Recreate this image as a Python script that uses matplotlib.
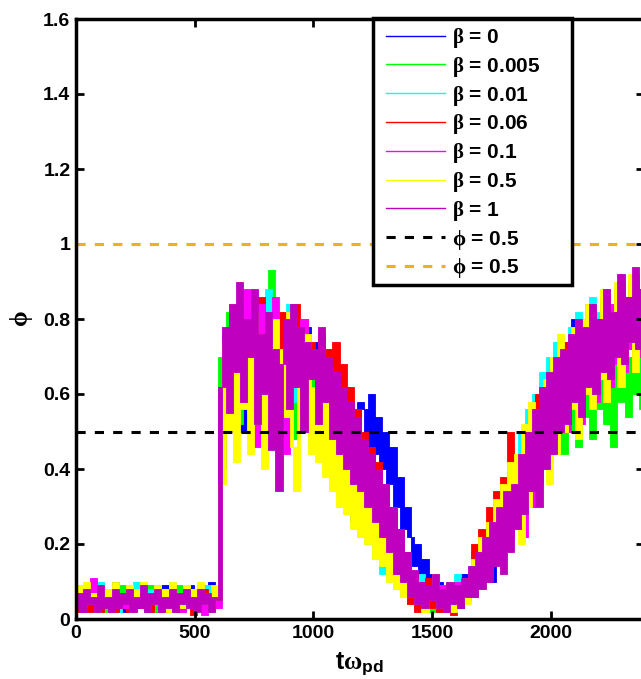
import numpy as np
import matplotlib
matplotlib.use("Agg")
import matplotlib.pyplot as plt
from matplotlib.lines import Line2D
from matplotlib.patches import Rectangle

plt.rcParams['font.family'] = ['Liberation Sans', 'DejaVu Sans']
plt.rcParams['font.weight'] = 'bold'
plt.rcParams['mathtext.fontset'] = 'custom'
plt.rcParams['mathtext.rm'] = 'Liberation Serif'
plt.rcParams['mathtext.it'] = 'Liberation Serif'
plt.rcParams['mathtext.bf'] = 'Liberation Sans:bold'

dt = 15  # sample spacing of the hand-read traces

# phi(t) traces, one value every 15 time units
phi_b0 = [0.04,0.08,0.03,0.06,0.09,0.02,0.07,0.04,0.08,0.03, 0.06,0.10,0.03,0.07,0.02,0.08,0.05,0.09,0.03,0.06,
          0.04,0.08,0.02,0.07,0.05,0.09,0.03,0.06,0.08,0.02, 0.07,0.04,0.09,0.03,0.08,0.05,0.06,0.03,0.10,0.04, 0.06,
          0.40,0.70,0.58,0.80,0.62,0.74,0.50,0.78,0.66,0.72,0.48,0.80,0.58,0.70,0.52,0.76,0.60,0.46,0.72,0.64,0.80,0.55,0.70,0.62,0.78,0.58,
          0.66,0.74,0.56,0.70,0.60,0.72,0.54,0.66,0.58,0.62,0.48,0.26,0.52,0.58,
          0.56,0.46,0.60,0.44,0.54,0.40,0.50,0.36,0.46,0.30,0.38,0.24,0.30,
          0.22,0.14,0.20,0.10,0.16,0.08,0.12,0.05,0.10,0.04,0.08,0.06,0.10,0.04,0.09,0.12,0.07,
          0.10,0.18,0.08,0.20,0.12,0.24,0.10,0.28,0.16,0.32,0.20,0.36,0.24,
          0.40,0.28,0.46,0.34,0.52,0.38,0.56,0.42,0.62,0.46,0.66,0.50,0.72,
          0.56,0.74,0.60,0.80,0.58,0.76,0.64,0.82,0.62,0.78,0.68,0.86,0.66,0.80,0.72,0.88,0.70,0.84,0.76,0.90,0.74,0.86,0.78,0.82,0.74,0.88]

phi_b0005 = [0.05,0.02,0.08,0.04,0.07,0.03,0.09,0.05,0.02,0.08, 0.04,0.06,0.03,0.09,0.05,0.07,0.02,0.08,0.04,0.06,
             0.03,0.09,0.05,0.02,0.07,0.04,0.08,0.03,0.06,0.09, 0.02,0.07,0.05,0.08,0.03,0.06,0.04,0.09,0.02,0.07, 0.04,
             0.70,0.56,0.82,0.60,0.76,0.52,0.84,0.64,0.72,0.58,0.80,0.50,0.74,0.66,0.93,0.60,0.78,0.54,0.70,0.62,0.80,0.48,0.74,0.60,0.68,0.56,
             0.64,0.50,0.70,0.46,0.62,0.42,0.58,0.38,0.52,0.34,0.48,0.30,0.44,0.26,
             0.36,0.22,0.32,0.18,0.28,0.16,0.24,0.12,0.20,0.08,0.14,0.06,0.10,
             0.04,0.09,0.03,0.08,0.05,0.10,0.02,0.07,0.04,0.09,0.03,0.08,0.05,0.06,0.03,0.10,0.05,
             0.08,0.16,0.10,0.20,0.12,0.24,0.16,0.28,0.18,0.32,0.22,0.36,0.26,
             0.44,0.32,0.50,0.36,0.56,0.40,0.60,0.44,0.58,0.42,0.62,0.46,0.60,
             0.44,0.64,0.50,0.70,0.46,0.66,0.54,0.72,0.48,0.68,0.56,0.74,0.52,0.70,0.46,0.72,0.58,0.76,0.54,0.70,0.60,0.78,0.56,0.66,0.58,0.72]

phi_b001 = [0.06,0.03,0.09,0.05,0.02,0.08,0.04,0.10,0.03,0.07, 0.05,0.09,0.02,0.06,0.04,0.08,0.03,0.10,0.05,0.07,
            0.02,0.08,0.04,0.09,0.03,0.06,0.05,0.10,0.02,0.07, 0.04,0.09,0.03,0.08,0.05,0.06,0.02,0.09,0.04,0.07, 0.05,
            0.52,0.74,0.60,0.80,0.54,0.72,0.62,0.86,0.58,0.76,0.48,0.82,0.64,0.88,0.56,0.74,0.50,0.78,0.66,0.84,0.58,0.72,0.62,0.80,0.54,0.70,
            0.68,0.48,0.64,0.44,0.60,0.40,0.56,0.36,0.52,0.32,0.46,0.28,0.40,0.24,
            0.34,0.20,0.30,0.16,0.26,0.12,0.22,0.10,0.18,0.08,0.14,0.06,0.12,
            0.05,0.10,0.03,0.12,0.06,0.09,0.04,0.11,0.02,0.08,0.05,0.10,0.03,0.12,0.04,0.08,0.06,
            0.10,0.18,0.08,0.22,0.12,0.26,0.14,0.30,0.18,0.34,0.20,0.38,0.24,
            0.36,0.50,0.30,0.56,0.40,0.60,0.36,0.66,0.44,0.70,0.48,0.74,0.52,
            0.70,0.56,0.78,0.60,0.82,0.58,0.80,0.64,0.86,0.62,0.82,0.68,0.88,0.66,0.84,0.72,0.90,0.70,0.86,0.76,0.92,0.74,0.88,0.80,0.72,0.86]

phi_b006 = [0.02,0.06,0.03,0.08,0.02,0.05,0.07,0.02,0.06,0.04, 0.08,0.02,0.05,0.03,0.07,0.02,0.06,0.04,0.08,0.03,
            0.05,0.02,0.07,0.04,0.06,0.02,0.08,0.03,0.05,0.02, 0.07,0.04,0.06,0.01,0.05,0.03,0.08,0.02,0.06,0.03, 0.05,
            0.48,0.70,0.58,0.82,0.62,0.78,0.56,0.84,0.68,0.76,0.60,0.86,0.64,0.80,0.52,0.74,0.62,0.82,0.58,0.76,0.66,0.84,0.60,0.80,0.56,0.74,
            0.70,0.58,0.76,0.62,0.72,0.56,0.74,0.52,0.68,0.48,0.62,0.44,0.56,0.40,
            0.50,0.34,0.46,0.28,0.42,0.24,0.36,0.20,0.30,0.14,0.24,0.10,0.18,
            0.04,0.10,0.02,0.08,0.05,0.11,0.03,0.09,0.02,0.07,0.04,0.10,0.01,0.06,0.03,0.08,0.05,
            0.12,0.20,0.10,0.24,0.14,0.30,0.16,0.34,0.20,0.38,0.22,0.50,0.26,
            0.40,0.30,0.48,0.36,0.54,0.40,0.60,0.44,0.64,0.48,0.66,0.52,0.70,
            0.54,0.74,0.58,0.78,0.54,0.80,0.62,0.84,0.56,0.78,0.64,0.86,0.60,0.80,0.70,0.88,0.64,0.82,0.72,0.90,0.68,0.84,0.76,0.82,0.66,0.84]

phi_b01 = [0.04,0.09,0.02,0.07,0.05,0.11,0.03,0.08,0.04,0.06, 0.02,0.09,0.05,0.07,0.03,0.08,0.02,0.06,0.04,0.09,
           0.03,0.07,0.05,0.08,0.02,0.06,0.04,0.09,0.03,0.07, 0.02,0.08,0.05,0.06,0.03,0.09,0.01,0.07,0.04,0.08, 0.03,
           0.60,0.76,0.50,0.82,0.64,0.72,0.56,0.88,0.62,0.80,0.46,0.84,0.58,0.76,0.52,0.86,0.60,0.70,0.44,0.82,0.64,0.76,0.54,0.80,0.58,0.72,
           0.66,0.54,0.72,0.50,0.68,0.46,0.64,0.42,0.60,0.38,0.56,0.32,0.50,0.30,
           0.44,0.28,0.40,0.22,0.36,0.18,0.32,0.14,0.26,0.10,0.22,0.08,0.16,
           0.08,0.12,0.05,0.10,0.03,0.08,0.06,0.11,0.04,0.09,0.02,0.07,0.05,0.10,0.03,0.09,0.06,
           0.12,0.06,0.16,0.10,0.20,0.12,0.24,0.16,0.28,0.20,0.32,0.22,0.36,
           0.26,0.40,0.22,0.46,0.30,0.52,0.36,0.58,0.42,0.62,0.46,0.68,0.50,
           0.66,0.50,0.74,0.56,0.78,0.52,0.76,0.60,0.82,0.58,0.80,0.64,0.86,0.62,0.84,0.68,0.90,0.66,0.86,0.72,0.92,0.70,0.88,0.78,0.70,0.86]

phi_b05 = [0.05,0.09,0.03,0.10,0.04,0.07,0.02,0.09,0.05,0.08, 0.03,0.10,0.04,0.07,0.06,0.09,0.02,0.08,0.05,0.10,
           0.03,0.07,0.04,0.09,0.06,0.08,0.02,0.10,0.04,0.07, 0.03,0.09,0.05,0.08,0.02,0.10,0.04,0.06,0.03,0.09, 0.05,
           0.36,0.74,0.50,0.84,0.42,0.78,0.56,0.70,0.44,0.82,0.52,0.76,0.40,0.74,0.48,0.80,0.38,0.72,0.54,0.82,0.46,0.34,0.68,0.50,0.76,0.44,
           0.62,0.42,0.68,0.38,0.60,0.34,0.58,0.30,0.52,0.28,0.46,0.24,0.40,0.22,
           0.38,0.20,0.34,0.16,0.30,0.14,0.26,0.10,0.22,0.08,0.18,0.06,0.12,
           0.06,0.11,0.04,0.09,0.02,0.08,0.05,0.12,0.03,0.07,0.04,0.10,0.02,0.08,0.05,0.11,0.04,
           0.08,0.16,0.12,0.22,0.10,0.26,0.16,0.32,0.20,0.36,0.24,0.42,0.28,
           0.44,0.20,0.52,0.30,0.58,0.34,0.56,0.40,0.64,0.36,0.70,0.44,0.76,
           0.50,0.72,0.56,0.78,0.48,0.80,0.60,0.84,0.56,0.76,0.64,0.88,0.58,0.82,0.70,0.90,0.62,0.84,0.74,0.92,0.66,0.86,0.76,0.84,0.68,0.88]

phi_b1 = [0.03,0.07,0.02,0.08,0.04,0.06,0.02,0.09,0.03,0.06, 0.02,0.08,0.03,0.07,0.04,0.08,0.02,0.06,0.03,0.09,
          0.02,0.07,0.04,0.08,0.02,0.06,0.03,0.08,0.02,0.07, 0.04,0.08,0.03,0.06,0.02,0.08,0.04,0.07,0.02,0.06, 0.05,
          0.62,0.78,0.55,0.84,0.66,0.90,0.58,0.80,0.70,0.88,0.52,0.76,0.60,0.82,0.45,0.72,0.34,0.68,0.80,0.56,0.84,0.62,0.78,0.50,0.74,0.64,
          0.72,0.52,0.78,0.58,0.70,0.48,0.66,0.44,0.62,0.40,0.58,0.36,0.54,0.34,
          0.48,0.30,0.44,0.26,0.40,0.22,0.36,0.18,0.30,0.12,0.24,0.10,0.18,
          0.06,0.13,0.04,0.10,0.03,0.09,0.05,0.12,0.03,0.08,0.02,0.10,0.04,0.09,0.03,0.11,0.06,
          0.14,0.06,0.18,0.08,0.22,0.10,0.26,0.14,0.30,0.12,0.34,0.18,0.36,
          0.24,0.44,0.28,0.50,0.34,0.56,0.30,0.62,0.40,0.66,0.44,0.70,0.50,
          0.72,0.52,0.76,0.58,0.80,0.54,0.78,0.62,0.84,0.60,0.80,0.66,0.88,0.64,0.82,0.70,0.92,0.68,0.86,0.74,0.94,0.72,0.88,0.80,0.70,0.90]

series = [phi_b0, phi_b0005, phi_b001, phi_b006, phi_b01, phi_b05, phi_b1]
labels = [r'$\beta$ = 0', r'$\beta$ = 0.005', r'$\beta$ = 0.01', r'$\beta$ = 0.06',
          r'$\beta$ = 0.1', r'$\beta$ = 0.5', r'$\beta$ = 1']
colors = ['#0000ff', '#00ff00', '#00ffff', '#ff0000', '#ff00ff', '#ffff00', '#bf00bf']

ref_levels = [0.5, 1.0]
ref_labels = [r'$\phi$ = 0.5', r'$\phi$ = 0.5']
ref_colors = ['black', '#EDB120']

xticks = [0, 500, 1000, 1500, 2000]
yticks = [0, 0.2, 0.4, 0.6, 0.8, 1.0, 1.2, 1.4, 1.6]
ytick_labels = ['0', '0.2', '0.4', '0.6', '0.8', '1', '1.2', '1.4', '1.6']

W, H = 641, 679
fig = plt.figure(figsize=(W / 100, H / 100), dpi=100)
ax = fig.add_axes([76 / W, 60 / H, 567.5 / W, 600 / H])

handles = []
for y, lab, c in zip(series, labels, colors):
    y = np.asarray(y)
    t = np.arange(len(y)) * dt
    # fast oscillation: fill between each sample and the next one
    ax.fill_between(t[:-1], y[:-1], y[1:], step='post', color=c, lw=0.6)
    handles.append(Line2D([], [], color=c, lw=1.0, label=lab))

dash = (0, (3, 3))
for lev, lab, c in zip(ref_levels, ref_labels, ref_colors):
    ax.axhline(lev, color=c, lw=2.2, ls=dash)
    handles.append(Line2D([], [], color=c, lw=2.2, ls=dash, label=lab))

ax.set_xlim(0, 2390)
ax.set_ylim(0, 1.6)
ax.set_xticks(xticks)
ax.set_yticks(yticks)
ax.set_yticklabels(ytick_labels)
ax.tick_params(direction='in', length=6, width=2, top=True, right=True,
               labelsize=14, pad=4)
for s in ax.spines.values():
    s.set_linewidth(2.5)
    s.set_zorder(6)

ax.set_ylabel(r'$\phi$', fontsize=18, labelpad=6)
ax.set_xlabel(r'$\mathbf{t}\omega_{\mathbf{pd}}$', fontsize=18, labelpad=7)

# legend box drawn by hand so its size matches the original
box = Rectangle((373 / W, 1 - 285 / H), 199 / W, 267 / H, transform=fig.transFigure,
                facecolor='white', edgecolor='black', lw=2.5, zorder=4, clip_on=False)
ax.add_patch(box)
leg = ax.legend(handles=handles, loc='upper left', bbox_to_anchor=(386 / W, 1 - 26 / H),
                bbox_transform=fig.transFigure, borderaxespad=0, borderpad=0,
                frameon=False, fontsize=15, handlelength=2.85, labelspacing=0.23,
                handletextpad=0.3)
leg.set_zorder(5)

fig.savefig('out.png', dpi=100)
